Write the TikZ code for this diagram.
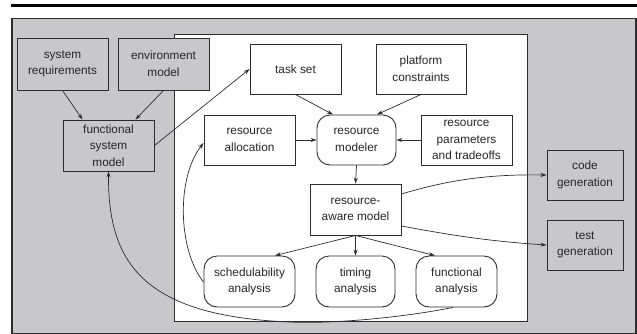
\documentclass[tikz,border=0pt]{standalone}
\usepackage{fontspec}
\setmainfont{Liberation Sans}
\usetikzlibrary{arrows.meta,calc}
\definecolor{bggray}{RGB}{200,200,202}
\definecolor{ln}{RGB}{45,45,45}
\tikzset{
  box/.style={draw=ln, line width=0.9pt, align=center, inner sep=0pt,
    font=\fontsize{11.8}{16.5}\selectfont, text=black!85},
  graybox/.style={box, fill=bggray},
  whitebox/.style={box, fill=white},
  roundbox/.style={box, fill=white, rounded corners=13pt},
  arr/.style={draw=ln, line width=0.7pt, -{Stealth[length=6pt,width=4pt]}},
}
\begin{document}
\begin{tikzpicture}[x=1pt,y=-1pt]
\useasboundingbox (0,0) rectangle (637,333);
% top rule
\fill[black] (11,4) rectangle (637,7);
% gray background
\filldraw[fill=bggray, draw=ln, line width=1.2pt] (12,18.5) -- (12,334) -- (636,334) -- (636,18.5) -- cycle;
% white inner
\filldraw[fill=white, draw=ln, line width=0.9pt] (174,34) rectangle (527,321);
% nodes
\node[graybox, minimum width=91pt, minimum height=52pt] (sysreq) at (62.5,64) {system\\requirements};
\node[graybox, minimum width=91pt, minimum height=52pt] (env) at (163.5,64) {environment\\model};
\node[graybox, minimum width=91pt, minimum height=51pt] (func) at (108.5,145.5) {functional\\system\\model};
\node[whitebox, minimum width=91pt, minimum height=50pt] (task) at (295.5,69) {task set};
\node[whitebox, minimum width=90pt, minimum height=50pt] (plat) at (421,69) {platform\\constraints};
\node[whitebox, minimum width=91pt, minimum height=50pt] (alloc) at (249.5,140) {resource\\allocation};
\node[roundbox, minimum width=79pt, minimum height=50pt] (modeler) at (356.5,140) {resource\\modeler};
\node[whitebox, minimum width=91pt, minimum height=50pt] (params) at (466.5,140) {resource\\parameters\\and tradeoffs};
\node[graybox, minimum width=76pt, minimum height=50pt] (code) at (585,175) {code\\generation};
\node[whitebox, minimum width=91pt, minimum height=51pt] (aware) at (355.5,209.5) {resource-\\aware model};
\node[graybox, minimum width=76pt, minimum height=50pt] (test) at (585,245) {test\\generation};
\node[roundbox, minimum width=91pt, minimum height=51pt] (sched) at (249.5,281.5) {schedulability\\analysis};
\node[roundbox, minimum width=79pt, minimum height=51pt] (timing) at (355.5,281.5) {timing\\analysis};
\node[roundbox, minimum width=81pt, minimum height=51pt] (funca) at (456.5,281.5) {functional\\analysis};
% connectors
\draw[arr] (sysreq.south) -- ($(func.north west)+(20,0)$);
\draw[arr] (env.south) -- ($(func.north east)+(-19,0)$);
\draw[arr] (func.east) -- (task.west);
\draw[arr] (task.south) -- ($(modeler.north)+(-23.5,0)$);
\draw[arr] (plat.south) -- ($(modeler.north)+(20.5,0)$);
\draw[arr] (alloc.east) -- (modeler.west);
\draw[arr] (params.west) -- (modeler.east);
\draw[arr] (modeler.south) -- (aware.north);
\draw[arr] (aware.south) -- ($(sched.north)+(25.5,0)$);
\draw[arr] (aware.south) -- (timing.north);
\draw[arr] (aware.south) -- ($(funca.north)+(-21.5,0)$);
\draw[arr] ($(aware.east)+(0,-15.5)$) .. controls (445,181) and (485,174) .. ($(code.west)$);
\draw[arr] ($(aware.east)+(0,16.5)$) .. controls (445,234) and (485,241) .. ($(test.west)$);
\draw[arr] ($(sched.west)+(0,0.5)$) .. controls (178,250) and (176,178) .. ($(alloc.west)+(0,3)$);
\coordinate (low) at (290,322);
\draw[arr] ($(funca.south)+(-3.5,0)$) .. controls (400,318) and (330,324) .. (low)
  .. controls (140,316) and (108,260) .. (func.south);
\end{tikzpicture}
\end{document}
